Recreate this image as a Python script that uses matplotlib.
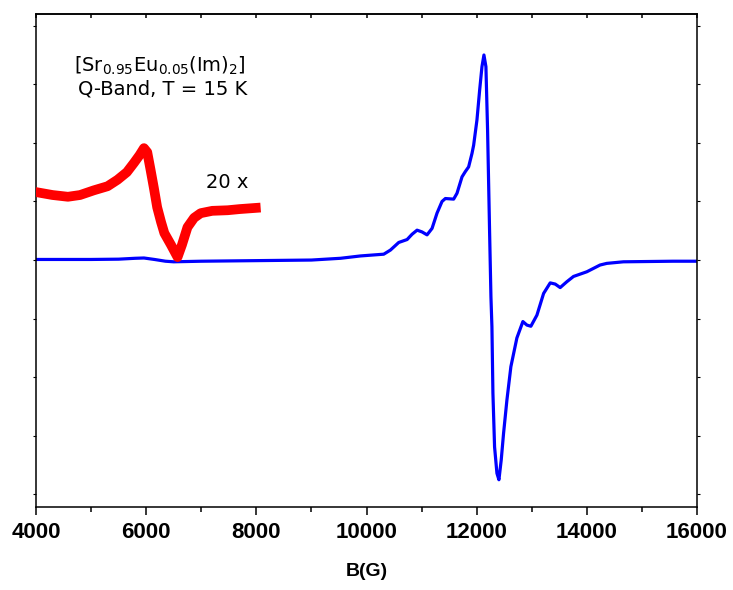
import matplotlib.pyplot as plt
from matplotlib.ticker import MultipleLocator

# field values (G) and EPR signal (arb. units)
field = [4000, 5000, 5500, 5800, 5960, 6150, 6350, 6500, 7000, 8000, 9000,
         9528, 9890, 10313, 10434, 10585, 10737, 10827, 10918, 11008, 11099,
         11190, 11280, 11371, 11432, 11582, 11643, 11734, 11794, 11854, 11915,
         11945, 12005, 12054, 12096, 12132, 12168, 12198, 12234, 12259, 12277,
         12295, 12325, 12368, 12404, 12446, 12488, 12549, 12621, 12730, 12839,
         12912, 12984, 13094, 13215, 13335, 13426, 13516, 13637, 13758, 14000,
         14240, 14362, 14664, 15570, 16000]
signal = [0.01, 0.01, 0.015, 0.03, 0.035, 0.01, -0.02, -0.03, -0.02, -0.01, 0.0,
          0.03, 0.07, 0.10, 0.17, 0.30, 0.35, 0.44, 0.51, 0.48, 0.43,
          0.54, 0.80, 1.00, 1.05, 1.04, 1.14, 1.42, 1.51, 1.59, 1.82,
          1.96, 2.39, 2.90, 3.30, 3.50, 3.30, 2.22, 0.51, -0.63, -1.14,
          -2.27, -3.19, -3.64, -3.75, -3.41, -2.96, -2.39, -1.82, -1.33, -1.05,
          -1.11, -1.13, -0.94, -0.57, -0.39, -0.41, -0.47, -0.37, -0.28, -0.20,
          -0.085, -0.057, -0.03, -0.02, -0.02]

# 20x magnified low-field part
field_zoom = [4000, 4300, 4580, 4800, 5050, 5300, 5480, 5650, 5780, 5880, 5960,
              6020, 6080, 6140, 6200, 6270, 6330, 6450, 6570, 6650, 6750, 6870,
              6990, 7200, 7480, 7700, 7990]
signal_zoom = [1.16, 1.11, 1.08, 1.11, 1.19, 1.26, 1.37, 1.50, 1.66, 1.79, 1.91,
               1.84, 1.54, 1.23, 0.90, 0.65, 0.46, 0.26, 0.05, 0.26, 0.56, 0.72,
               0.80, 0.84, 0.85, 0.87, 0.89]

fig = plt.figure(figsize=(7.33, 5.90), dpi=100)
ax = fig.add_axes([0.0491, 0.1407, 0.9018, 0.8356])

ax.plot(field, signal, color='#0000ff', lw=2.3, zorder=2)
ax.plot(field_zoom, signal_zoom, color='#ff0000', lw=7, zorder=3)

ax.set_xlim(4000, 16000)
ax.set_ylim(-4.215, 4.20)

tick_font = {'family': 'Liberation Sans', 'weight': 'bold', 'size': 16}
ax.xaxis.set_major_locator(MultipleLocator(2000))
ax.xaxis.set_minor_locator(MultipleLocator(1000))
ax.tick_params(axis='x', which='major', direction='out', length=6, width=1.1, pad=5)
ax.tick_params(axis='x', which='minor', direction='out', length=3.5, width=1.1)
for lab in ax.get_xticklabels():
    lab.set_fontproperties(tick_font)

ax.yaxis.set_major_locator(MultipleLocator(1))
ax.tick_params(axis='y', which='major', direction='out', length=2, width=0.8,
               left=True, right=True, labelleft=False)

top = ax.secondary_xaxis('top')
top.xaxis.set_major_locator(MultipleLocator(1000))
top.tick_params(direction='in', length=3, width=1.1, labeltop=False)

for sp in list(ax.spines.values()) + [top.spines['top']]:
    sp.set_linewidth(1.1)

ax.set_xlabel('B(G)', fontdict={'family': 'Liberation Sans', 'weight': 'bold',
                                'size': 14}, labelpad=14)

txt = {'family': 'DejaVu Sans', 'size': 14}
ax.text(4689, 3.21, r'[Sr$_{0.95}$Eu$_{0.05}$(Im)$_{2}$]', fontdict=txt, va='baseline')
ax.text(4761, 2.82, 'Q-Band, T = 15 K', fontdict=txt, va='baseline')
ax.text(7081, 1.23, '20 x', fontdict=txt, va='baseline')

fig.savefig('out.png', dpi=100)
